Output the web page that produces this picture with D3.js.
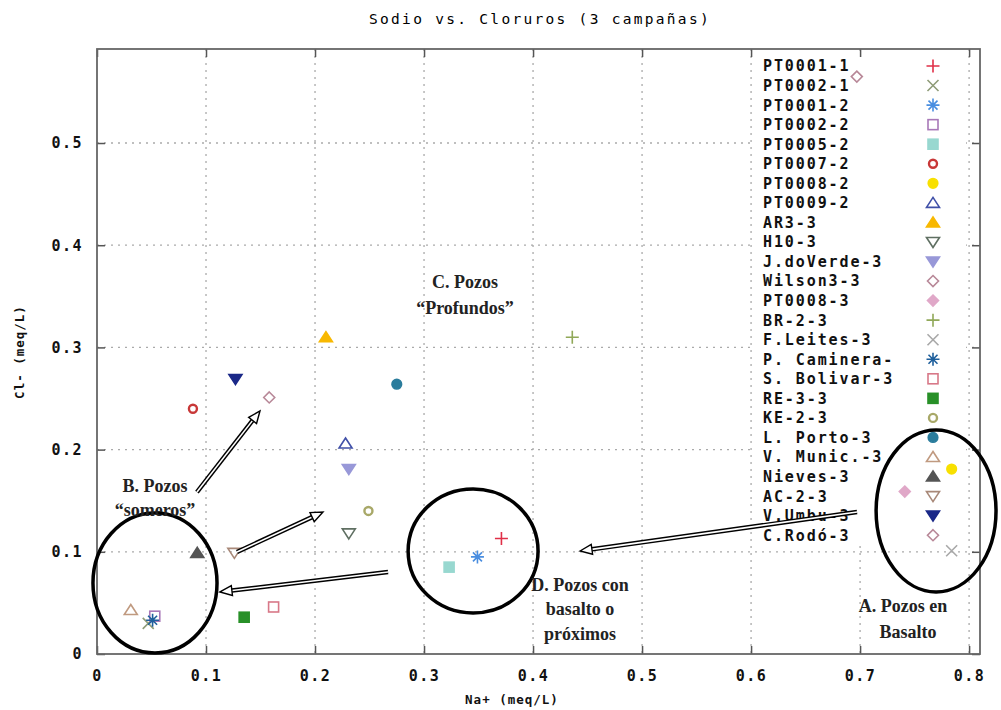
<!DOCTYPE html>
<html><head><meta charset="utf-8">
<script src="https://cdn.jsdelivr.net/npm/d3@7"></script>
<style>body{margin:0;background:#fff}</style></head>
<body>
<svg id="c" width="1001" height="710"></svg>
<script>
const series = ["PT0001-1","PT0002-1","PT0001-2","PT0002-2","PT0005-2","PT0007-2","PT0008-2","PT0009-2","AR3-3","H10-3","J.doVerde-3","Wilson3-3","PT0008-3","BR-2-3","F.Leites-3","P. Caminera-","S. Bolivar-3","RE-3-3","KE-2-3","L. Porto-3","V. Munic.-3","Nieves-3","AC-2-3","V.Umbu-3","C.Rodó-3"];
const naValues = [0.371,0.047,0.349,0.053,0.323,0.088,0.784,0.228,0.210,0.231,0.231,0.158,0.741,0.436,0.784,0.051,0.162,0.135,0.249,0.275,0.031,0.092,0.126,0.127,0.697];
const clValues = [0.113,0.030,0.095,0.037,0.085,0.240,0.181,0.206,0.310,0.118,0.181,0.251,0.159,0.310,0.101,0.033,0.046,0.036,0.140,0.264,0.043,0.099,0.099,0.269,0.565];
const shapes = ["plus","cross","star","square","squareF","circle","circleF","tri","triF","tridown","tridownF","diamond","diamondF","plus","cross","star","square","squareF","circle","circleF","tri","triF","tridown","tridownF","diamond"];
const colors = ["#e03048","#8f9c78","#4a8ee0","#a878b8","#98d8d0","#c83838","#f8e000","#4050a8","#f8b800","#5f6f62","#9898d8","#b88898","#e0a8c8","#90a858","#a8a8a8","#1e5f9c","#d87888","#289028","#a8a868","#2a7c9c","#c09a80","#555555","#a88878","#1a2888","#b88898"];
const xTicks = [0,0.1,0.2,0.3,0.4,0.5,0.6,0.7,0.8];
const yTicks = [0,0.1,0.2,0.3,0.4,0.5];
const title = "Sodio vs. Cloruros (3 campañas)";
const xLabel = "Na+ (meq/L)";
const yLabel = "Cl- (meq/L)";
// annotations in data units
const ellipses = [{cx:0.0532,cy:0.0695,rx:0.0569,ry:0.0685},{cx:0.345,cy:0.1008,rx:0.0596,ry:0.0607},{cx:0.7697,cy:0.140,rx:0.0550,ry:0.0793}];
const arrows = [[0.0917,0.1585,0.1495,0.2378],[0.1284,0.0998,0.2073,0.1389],[0.2670,0.0802,0.1128,0.0607],[0.6972,0.1389,0.4431,0.1008]];
const notes = [["C. Pozos",0.3376,0.364],["“Profundos”",0.3376,0.3386],["B. Pozos",0.0532,0.1644],["“someros”",0.0532,0.1409],["D. Pozos con",0.4431,0.0675],["basalto o",0.4431,0.044],["próximos",0.4431,0.0196],["A. Pozos en",0.7394,0.047],["Basalto",0.7440,0.0215]];

const L=97,R=980,T=49,B=654;
const x = d3.scaleLinear().domain([0,0.81]).range([L,R]);
const y = d3.scaleLinear().domain([0,0.592]).range([B,T]);
const svg = d3.select("#c");
const mono = "'DejaVu Sans Mono', monospace";

// grid
const g = svg.append("g");
g.selectAll(".gx").data(xTicks.slice(1)).join("line")
 .attr("x1",d=>x(d)).attr("x2",d=>x(d)).attr("y1",T).attr("y2",B)
 .attr("stroke","#aaa").attr("stroke-width",1.3).attr("stroke-dasharray","2,5");
g.selectAll(".gy").data(yTicks.slice(1)).join("line")
 .attr("y1",d=>y(d)).attr("y2",d=>y(d)).attr("x1",L).attr("x2",R)
 .attr("stroke","#aaa").attr("stroke-width",1.3).attr("stroke-dasharray","2,5");

// legend background
const legX = 763, legY0 = 66, legDy = 19.55, symX = 933;
svg.append("rect").attr("x",755).attr("y",52).attr("width",211).attr("height",legY0+legDy*24+10-52).attr("fill","#fff");

// frame and axes
const xAxis = d3.axisBottom(x).tickValues(xTicks).tickSize(-8).tickFormat(d3.format(".1~f"));
const yAxis = d3.axisLeft(y).tickValues(yTicks).tickSize(-8).tickFormat(d3.format(".1~f"));
const ax = svg.append("g").attr("transform",`translate(0,${B})`).call(xAxis);
const ay = svg.append("g").attr("transform",`translate(${L},0)`).call(yAxis);
svg.append("g").attr("transform",`translate(0,${T})`).call(d3.axisTop(x).tickValues(xTicks).tickSize(-8).tickFormat(""));
svg.append("g").attr("transform",`translate(${R},0)`).call(d3.axisRight(y).tickValues(yTicks).tickSize(-8).tickFormat(""));
svg.selectAll(".domain").remove();
svg.selectAll(".tick line").attr("stroke","#555").attr("stroke-width",1.5);
ax.selectAll("text").attr("font-family",mono).attr("font-weight","bold").attr("font-size",15).attr("fill","#111").attr("y",16).attr("letter-spacing",1.5);
ay.selectAll("text").attr("font-family",mono).attr("font-weight","bold").attr("font-size",15).attr("fill","#111").attr("x",-14).attr("letter-spacing",1.5);
svg.append("rect").attr("x",L).attr("y",T).attr("width",R-L).attr("height",B-T).attr("fill","none").attr("stroke","#666").attr("stroke-width",1.8);

// title and labels
svg.append("text").attr("x",540).attr("y",24).attr("text-anchor","middle").attr("font-family",mono).attr("font-size",14.5).attr("letter-spacing",2.3).attr("fill","#000").text(title);
svg.append("text").attr("x",512).attr("y",704).attr("text-anchor","middle").attr("font-family",mono).attr("font-weight","bold").attr("font-size",12.5).attr("letter-spacing",1).attr("fill","#111").text(xLabel);
svg.append("text").attr("transform","translate(24,352) rotate(-90)").attr("text-anchor","middle").attr("font-family",mono).attr("font-weight","bold").attr("font-size",12.5).attr("letter-spacing",1).attr("fill","#111").text(yLabel);

// symbol drawing
function drawSym(sel, shape, color){
  const s=5.5;
  const filled = shape.endsWith("F");
  const base = filled ? shape.slice(0,-1) : shape;
  let el;
  if(base==="plus") el = sel.append("path").attr("d",`M${-s-1},0H${s+1}M0,${-s-1}V${s+1}`);
  else if(base==="cross") el = sel.append("path").attr("d",`M${-s},${-s}L${s},${s}M${-s},${s}L${s},${-s}`);
  else if(base==="star") el = sel.append("path").attr("d",`M${-s-1},0H${s+1}M0,${-s-1}V${s+1}M${-s+1},${-s+1}L${s-1},${s-1}M${-s+1},${s-1}L${s-1},${-s+1}`);
  else if(base==="square") el = sel.append("rect").attr("x",-s+0.5).attr("y",-s+0.5).attr("width",2*s-1).attr("height",2*s-1);
  else if(base==="circle") el = sel.append("circle").attr("r",filled?4.8:4);
  else if(base==="tri") el = sel.append("path").attr("d",`M0,${-s}L${s+1},${s-1}L${-s-1},${s-1}Z`);
  else if(base==="tridown") el = sel.append("path").attr("d",`M0,${s}L${s+1},${-s+1}L${-s-1},${-s+1}Z`);
  else if(base==="diamond") el = sel.append("path").attr("d",`M0,${-s}L${s},0L0,${s}L${-s},0Z`);
  el.attr("stroke",color).attr("stroke-width",base==="circle"&&!filled?2.4:1.6)
    .attr("fill",filled?color:"none");
}

// legend
const leg = svg.append("g");
series.forEach((name,i)=>{
  const yy = legY0 + legDy*i;
  leg.append("text").attr("x",legX).attr("y",yy).attr("dy","0.36em")
    .attr("font-family",mono).attr("font-weight","bold").attr("font-size",15).attr("letter-spacing",1.9).attr("fill","#111").text(name);
  drawSym(leg.append("g").attr("transform",`translate(${symX},${yy})`), shapes[i], colors[i]);
});

// points
const pts = svg.append("g");
series.forEach((n,i)=>{
  drawSym(pts.append("g").attr("transform",`translate(${x(naValues[i])},${y(clValues[i])})`), shapes[i], colors[i]);
});

// ellipses
svg.append("g").selectAll("ellipse").data(ellipses).join("ellipse")
 .attr("cx",d=>x(d.cx)).attr("cy",d=>y(d.cy))
 .attr("rx",d=>x(d.rx)-x(0)).attr("ry",d=>y(0)-y(d.ry))
 .attr("fill","none").attr("stroke","#000").attr("stroke-width",3.5);

// arrows
const ag = svg.append("g");
arrows.forEach(a=>{
  const x1=x(a[0]),y1=y(a[1]),x2=x(a[2]),y2=y(a[3]);
  const ang=Math.atan2(y2-y1,x2-x1), hl=12, hw=5;
  const bx=x2-hl*Math.cos(ang), by=y2-hl*Math.sin(ang);
  ag.append("line").attr("x1",x1).attr("y1",y1).attr("x2",bx).attr("y2",by).attr("stroke","#000").attr("stroke-width",4.5);
  ag.append("line").attr("x1",x1).attr("y1",y1).attr("x2",bx+2*Math.cos(ang)).attr("y2",by+2*Math.sin(ang)).attr("stroke","#fff").attr("stroke-width",1.6);
  const px=-Math.sin(ang), py=Math.cos(ang);
  ag.append("path").attr("d",`M${x2},${y2}L${bx+hw*px},${by+hw*py}L${bx-hw*px},${by-hw*py}Z`)
    .attr("fill","#fff").attr("stroke","#000").attr("stroke-width",1.4);
});

// annotation texts
svg.append("g").selectAll("text").data(notes).join("text")
 .attr("x",d=>x(d[1])).attr("y",d=>y(d[2])).attr("dy","0.35em").attr("text-anchor","middle")
 .attr("font-family","'Liberation Serif', 'Times New Roman', serif").attr("font-weight","bold").attr("font-size",18).attr("fill","#222")
 .text(d=>d[0]);
</script>
</body></html>
